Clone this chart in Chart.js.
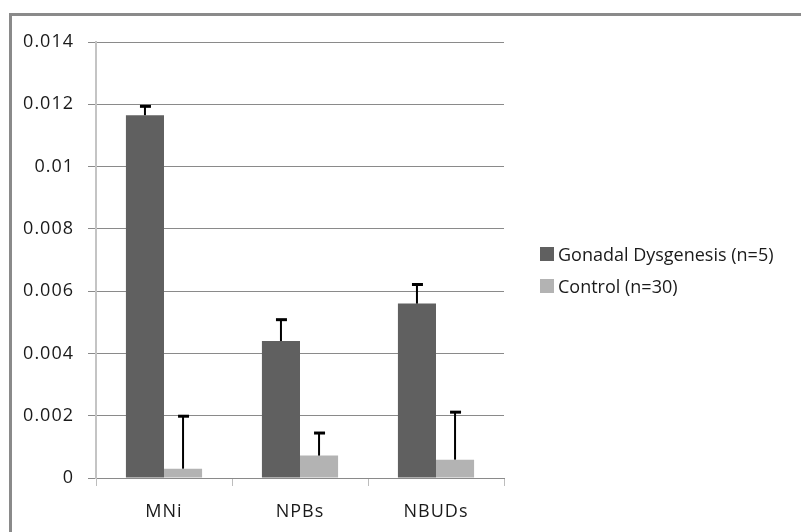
<!DOCTYPE html>
<html lang="en">
<head>
  <meta charset="UTF-8" />
  <title>Micronuclei frequencies</title>
  <script src="https://cdn.jsdelivr.net/npm/chart.js"></script>
  <style>
    body {
      margin: 0;
      background: #fff;
      font-family: 'Open Sans', sans-serif;
    }
    .wrap {
      position: relative;
      width: 801px;
      height: 532px;
      overflow: hidden;
    }
    .frame {
      position: absolute;
      left: 9px;
      top: 13px;
      width: 800px;
      height: 540px;
      border-top: 3px solid #8a8a8a;
      border-left: 3px solid #8a8a8a;
    }
    canvas { position: absolute; left: 0; top: 0; }
    .legend {
      position: absolute;
      left: 540px;
      top: 243px;
      font-size: 18px;
      color: #1a1a1a;
    }
    .legend div {
      display: flex;
      align-items: center;
      height: 22px;
      margin-bottom: 10px;
    }
    .legend span.sw {
      display: inline-block;
      width: 14px;
      height: 14px;
      margin-right: 4px;
    }
  </style>
</head>
<body>
  <div class="wrap">
    <div class="frame"></div>
    <canvas id="chart" width="801" height="532"></canvas>
    <div class="legend" id="legend"></div>
  </div>

  <script>
    const categories = ['MNi', 'NPBs', 'NBUDs'];
    const seriesNames = ['Gonadal Dysgenesis (n=5)', 'Control (n=30)'];
    const gdValues = [0.01165, 0.0044, 0.0056];
    const gdErrors = [0.0003, 0.0007, 0.00063];
    const ctrlValues = [0.0003, 0.00072, 0.00059];
    const ctrlErrors = [0.0017, 0.00074, 0.00154];
    const yTicks = [0, 0.002, 0.004, 0.006, 0.008, 0.01, 0.012, 0.014];

    const colors = ['#606060', '#b3b3b3'];
    const textColor = '#1a1a1a';

    // the original labels are set quite wide
    const wideText = {
      id: 'wideText',
      beforeDraw(chart) { chart.ctx.letterSpacing = '1px'; }
    };

    // plus-direction error bars drawn on top of each bar
    const errorBars = {
      id: 'errorBars',
      afterDatasetsDraw(chart) {
        const ctx = chart.ctx;
        const yScale = chart.scales.y;
        chart.data.datasets.forEach((ds, i) => {
          const meta = chart.getDatasetMeta(i);
          meta.data.forEach((bar, j) => {
            const top = yScale.getPixelForValue(ds.data[j] + ds.errors[j]);
            ctx.save();
            ctx.strokeStyle = '#000';
            ctx.lineWidth = 2;
            ctx.beginPath();
            ctx.moveTo(bar.x, bar.y);
            ctx.lineTo(bar.x, top);
            ctx.stroke();
            ctx.lineWidth = 3;
            ctx.beginPath();
            ctx.moveTo(bar.x - 5, top + 0.5);
            ctx.lineTo(bar.x + 6, top + 0.5);
            ctx.stroke();
            ctx.restore();
          });
        });
      }
    };

    new Chart(document.getElementById('chart').getContext('2d'), {
      type: 'bar',
      data: {
        labels: categories,
        datasets: [
          { label: seriesNames[0], data: gdValues, errors: gdErrors, backgroundColor: colors[0] },
          { label: seriesNames[1], data: ctrlValues, errors: ctrlErrors, backgroundColor: colors[1] }
        ]
      },
      options: {
        responsive: false,
        animation: false,
        categoryPercentage: 0.56,
        barPercentage: 1,
        layout: { padding: { left: 0, top: 42, right: 297, bottom: 0 } },
        plugins: {
          legend: { display: false },
          tooltip: { enabled: false }
        },
        scales: {
          x: {
            afterFit: s => { s.height = 54; },
            grid: {
              offset: true,
              drawOnChartArea: false,
              color: '#bdbdbd',
              tickLength: 8
            },
            border: { color: '#8a8a8a', width: 1 },
            ticks: {
              color: textColor,
              padding: 15,
              font: { family: 'Open Sans', size: 18 }
            }
          },
          y: {
            min: 0,
            max: 0.014,
            afterFit: s => { s.width = 96; },
            afterBuildTicks: s => { s.ticks = yTicks.map(v => ({ value: v })); },
            grid: { color: '#8a8a8a', tickLength: 8 },
            border: { color: '#c4c4c4', width: 2 },
            ticks: {
              color: textColor,
              padding: 14,
              font: { family: 'Open Sans', size: 18 },
              callback: v => String(Number(v.toFixed(3)))
            }
          }
        }
      },
      plugins: [wideText, errorBars]
    });

    const legend = document.getElementById('legend');
    seriesNames.forEach((name, i) => {
      const row = document.createElement('div');
      const sw = document.createElement('span');
      sw.className = 'sw';
      sw.style.background = colors[i];
      row.appendChild(sw);
      row.appendChild(document.createTextNode(name));
      legend.appendChild(row);
    });
  </script>
</body>
</html>
